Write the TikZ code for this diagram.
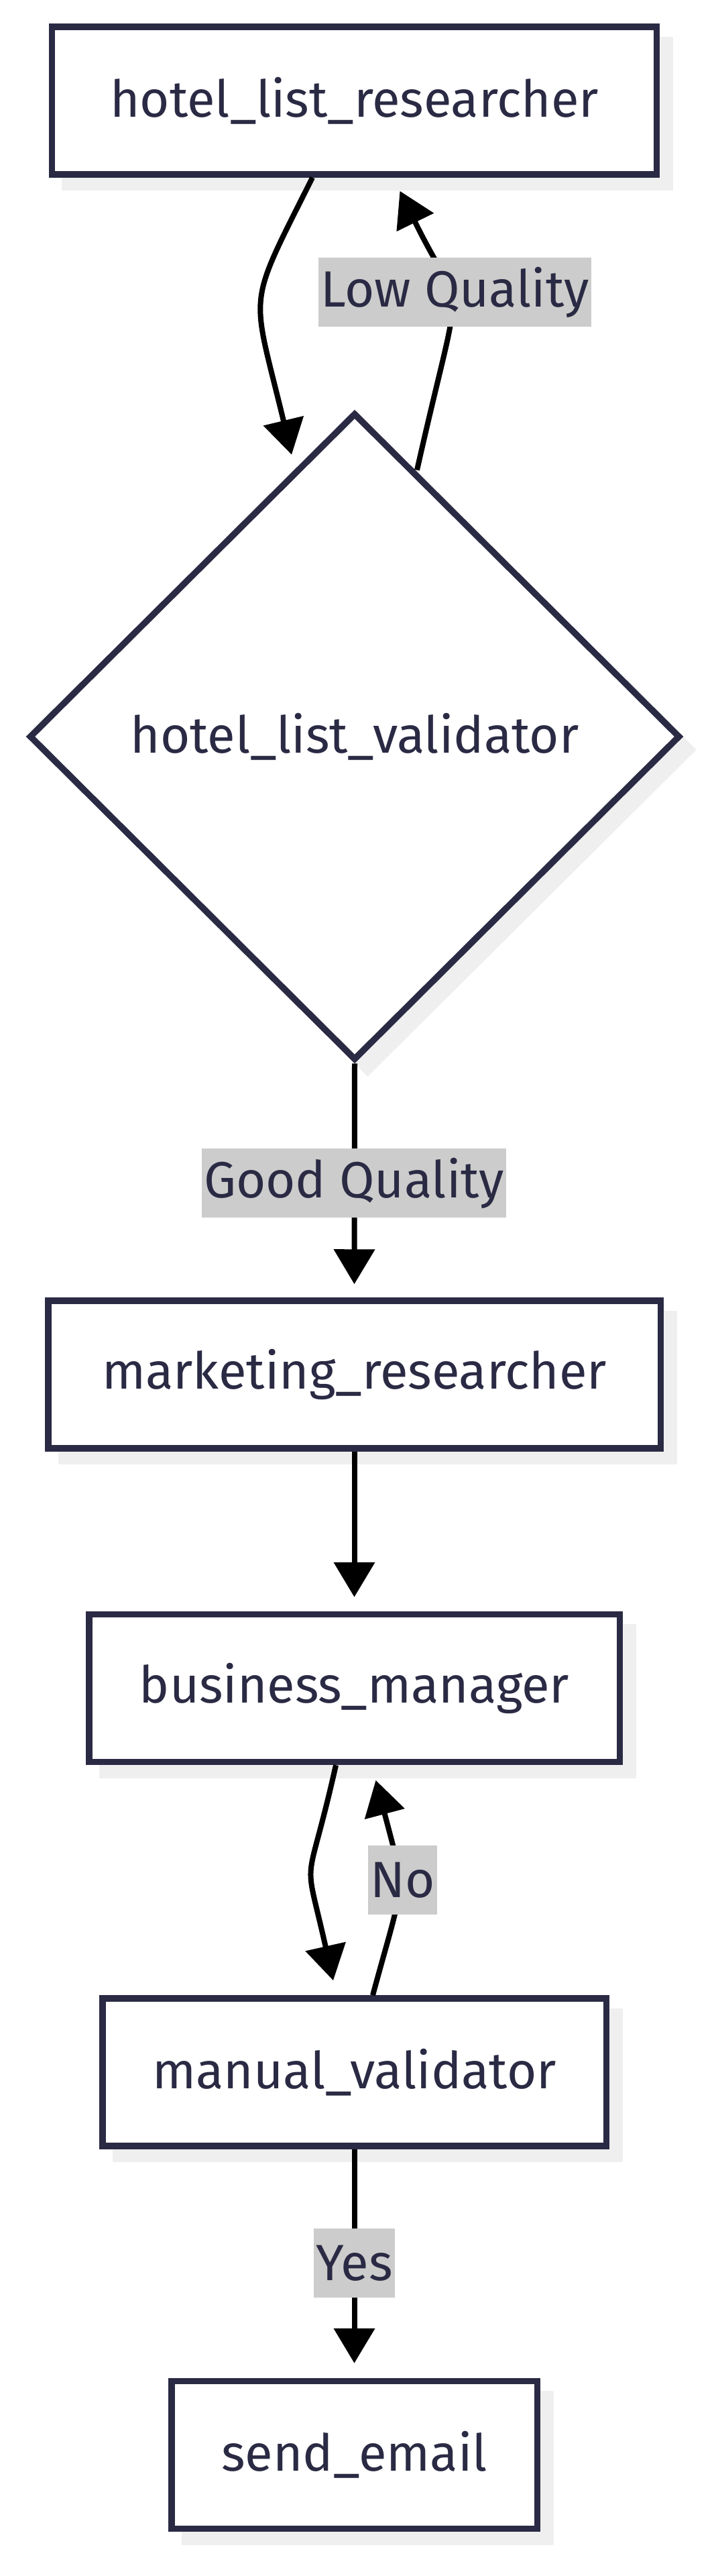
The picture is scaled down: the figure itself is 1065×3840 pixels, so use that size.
\documentclass[tikz,border=0pt]{standalone}
\usepackage{fontspec}
\setmainfont{Fira Sans}
\usetikzlibrary{arrows.meta,shapes.geometric,shadows,calc}
\definecolor{ink}{HTML}{2A2A44}
\definecolor{lblgray}{HTML}{CCCCCC}
\definecolor{shgray}{HTML}{EFEFEF}
\newcommand\tsz{\fontsize{76pt}{90pt}\selectfont}
\begin{document}
\begin{tikzpicture}[x=1pt,y=-1pt,
  shd/.style={drop shadow={shadow xshift=19.5pt, shadow yshift=-19.5pt, opacity=1, fill=shgray, draw=shgray, line width=9.5pt}},
  box/.style={shape=rectangle, draw=ink, line width=9.5pt, fill=white, minimum height=220pt, inner sep=0pt, text=ink, font=\tsz, shd},
  dec/.style={shape=diamond, draw=ink, line width=9.5pt, fill=white, inner sep=0pt, text=ink, font=\tsz, shd},
  edge/.style={draw=black, line width=8pt, -{Triangle[length=52pt,width=60pt]}},
  lbl/.style={fill=lblgray, text=ink, font=\tsz, inner xsep=3pt, inner ysep=0pt, minimum height=103pt}
]
\useasboundingbox (0,0) rectangle (1065,3840);
\fill[white] (0,0) rectangle (1065,3840);

\node[box, minimum width=902pt] (hlr) at (528.5,150) {hotel\_list\_researcher};
\node[dec, minimum width=971pt, minimum height=965pt] (hlv) at (529,1098) {hotel\_list\_validator};
\node[box, minimum width=913.5pt] (mr) at (528.5,2049) {marketing\_researcher};
\node[box, minimum width=791.5pt] (bm) at (528.5,2516.5) {business\_manager};
\node[box, minimum width=751.5pt] (mv) at (528.5,3089) {manual\_validator};
\node[box, minimum width=545.5pt] (se) at (528.5,3659.5) {send\_email};

% hotel_list_researcher -> hotel_list_validator
\coordinate (e1s) at ([xshift=-62.5pt]hlr.south);
\coordinate (e1t) at ([xshift=-94pt,yshift=-67pt]hlv.north);
\draw[edge] (e1s) .. controls ($(e1s)+(-100,200)$) and ($(e1t)+(-60,-250)$) .. (e1t);

% hotel_list_validator -> hotel_list_researcher (Low Quality)
\coordinate (e2s) at ([xshift=93pt,yshift=-90pt]hlv.north);
\coordinate (e2t) at ([xshift=68pt,yshift=-20pt]hlr.south);
\draw[edge] (e2s) .. controls ($(e2s)+(70,-312)$) and ($(e2t)+(97,198)$) .. (e2t);
\node[lbl] (lq) at (678.5,435.5) {Low Quality};

% hotel_list_validator -> marketing_researcher (Good Quality)
\draw[edge] (hlv.south) -- ([yshift=20pt]mr.north);
\node[lbl] (gq) at (528,1763.5) {Good Quality};

% marketing_researcher -> business_manager
\draw[edge] (mr.south) -- ([yshift=21pt]bm.north);

% business_manager -> manual_validator
\coordinate (e5s) at ([xshift=-27.5pt]bm.south);
\coordinate (e5t) at ([xshift=-31.5pt,yshift=22pt]mv.north);
\draw[edge] (e5s) .. controls ($(e5s)+(-45,200)$) and ($(e5t)+(-45,-200)$) .. (e5t);

% manual_validator -> business_manager (No)
\coordinate (e6s) at ([xshift=27.5pt]mv.north);
\coordinate (e6t) at ([xshift=32pt,yshift=-22.5pt]bm.south);
\draw[edge] (e6s) .. controls ($(e6s)+(47,-174)$) and ($(e6t)+(46,174)$) .. (e6t);
\node[lbl] (no) at (600.5,2802.5) {No};

% manual_validator -> send_email (Yes)
\draw[edge] (mv.south) -- ([yshift=22pt]se.north);
\node[lbl] (yes) at (528.5,3373.5) {Yes};
\end{tikzpicture}
\end{document}
